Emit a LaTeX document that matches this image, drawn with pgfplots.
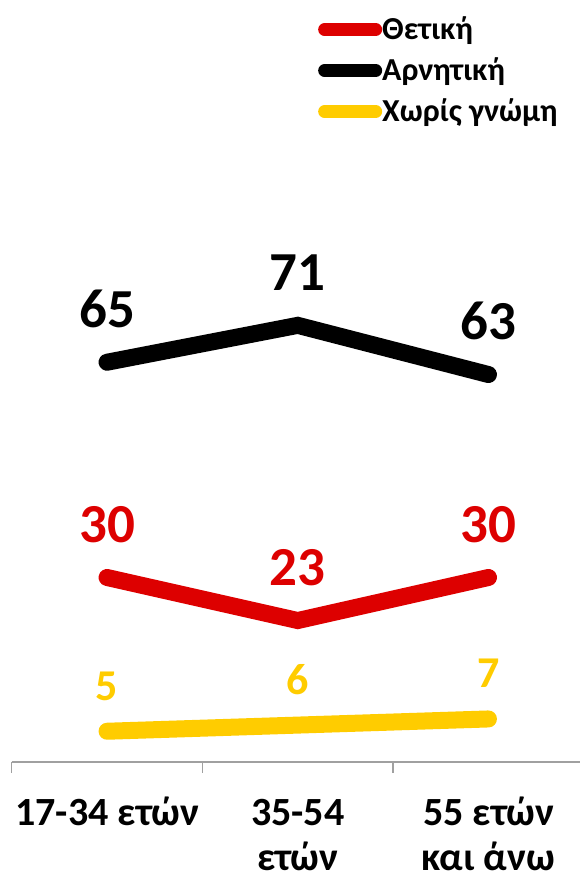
\documentclass[border=0pt]{standalone}
\usepackage{pgfplots}
\pgfplotsset{compat=1.18}
\usepackage{fontspec}
\setmainfont{Carlito}
\definecolor{cred}{RGB}{221,0,0}
\definecolor{cyel}{RGB}{255,204,0}
\definecolor{axgray}{RGB}{160,160,160}
\begin{document}
\begin{tikzpicture}
\path[use as bounding box] (-11.7pt,-116pt) rectangle (568.3pt,762pt);
\begin{axis}[
  at={(0pt,0pt)}, anchor=south west,
  scale only axis, width=568.3pt, height=762pt,
  xmin=-0.5, xmax=2.48, ymin=0, ymax=123.9,
  clip=false,
  axis y line=none, axis x line*=bottom,
  x axis line style={draw=axgray, line width=1.5pt},
  ytick=\empty,
  xtick={0,1,2},
  xticklabels={{\rule{0pt}{32pt}17-34 ετών},{\rule{0pt}{32pt}35-54\\ετών},{\rule{0pt}{32pt}55 ετών\\και άνω}},
  major tick length=0pt,
  tick align=outside,
  extra x ticks={-0.5,0.5,1.5},
  extra x tick labels={},
  extra x tick style={major tick length=11pt, tick style={draw=axgray, line width=1.5pt}},
  xticklabel style={font=\fontsize{40}{45}\selectfont\bfseries, align=center, anchor=north, inner sep=0pt, yshift=-31pt, text depth=0pt},
  legend style={at={(axis cs:1.107,121.2)}, anchor=north west, draw=none, fill=none,
    inner sep=0pt, outer sep=0pt, font=\fontsize{32}{36}\selectfont\bfseries,
    row sep=13pt, column sep=0pt, nodes={inner sep=0pt, text height=17pt, text depth=5pt}},
  legend cell align=left,
]
\addlegendimage{legend image code/.code={\path[draw=none] (0pt,-5pt) rectangle (64pt,17pt);\draw[cred,line width=13pt,line cap=round] (6.5pt,4pt) -- (57.5pt,4pt);}}
\addlegendentry{Θετική}
\addlegendimage{legend image code/.code={\path[draw=none] (0pt,-5pt) rectangle (64pt,17pt);\draw[black,line width=13pt,line cap=round] (6.5pt,4pt) -- (57.5pt,4pt);}}
\addlegendentry{Αρνητική}
\addlegendimage{legend image code/.code={\path[draw=none] (0pt,-5pt) rectangle (64pt,17pt);\draw[cyel,line width=13pt,line cap=round] (6.5pt,4pt) -- (57.5pt,4pt);}}
\addlegendentry{Χωρίς γνώμη}

\addplot[cred, line width=17pt, line cap=round, line join=miter, forget plot,
  nodes near coords={\pgfmathprintnumber[assume math mode=true]{\pgfplotspointmeta}},
  every node near coord/.append style={font=\fontsize{55}{66}\selectfont\bfseries, text=cred, anchor=base, inner sep=0pt, yshift=35pt}]
  coordinates {(0,30) (1,23) (2,30)};
\addplot[black, line width=17pt, line cap=round, line join=miter, forget plot,
  nodes near coords={\pgfmathprintnumber[assume math mode=true]{\pgfplotspointmeta}},
  every node near coord/.append style={font=\fontsize{55}{66}\selectfont\bfseries, text=black, anchor=base, inner sep=0pt, yshift=35pt}]
  coordinates {(0,65) (1,71) (2,63)};
\addplot[cyel, line width=17pt, line cap=round, line join=miter, forget plot,
  nodes near coords={\pgfmathprintnumber[assume math mode=true]{\pgfplotspointmeta}},
  every node near coord/.append style={font=\fontsize{44}{53}\selectfont\bfseries, text=cyel, anchor=base, inner sep=0pt, yshift=31pt}]
  coordinates {(0,5) (1,6) (2,7)};
\end{axis}
\end{tikzpicture}
\end{document}
